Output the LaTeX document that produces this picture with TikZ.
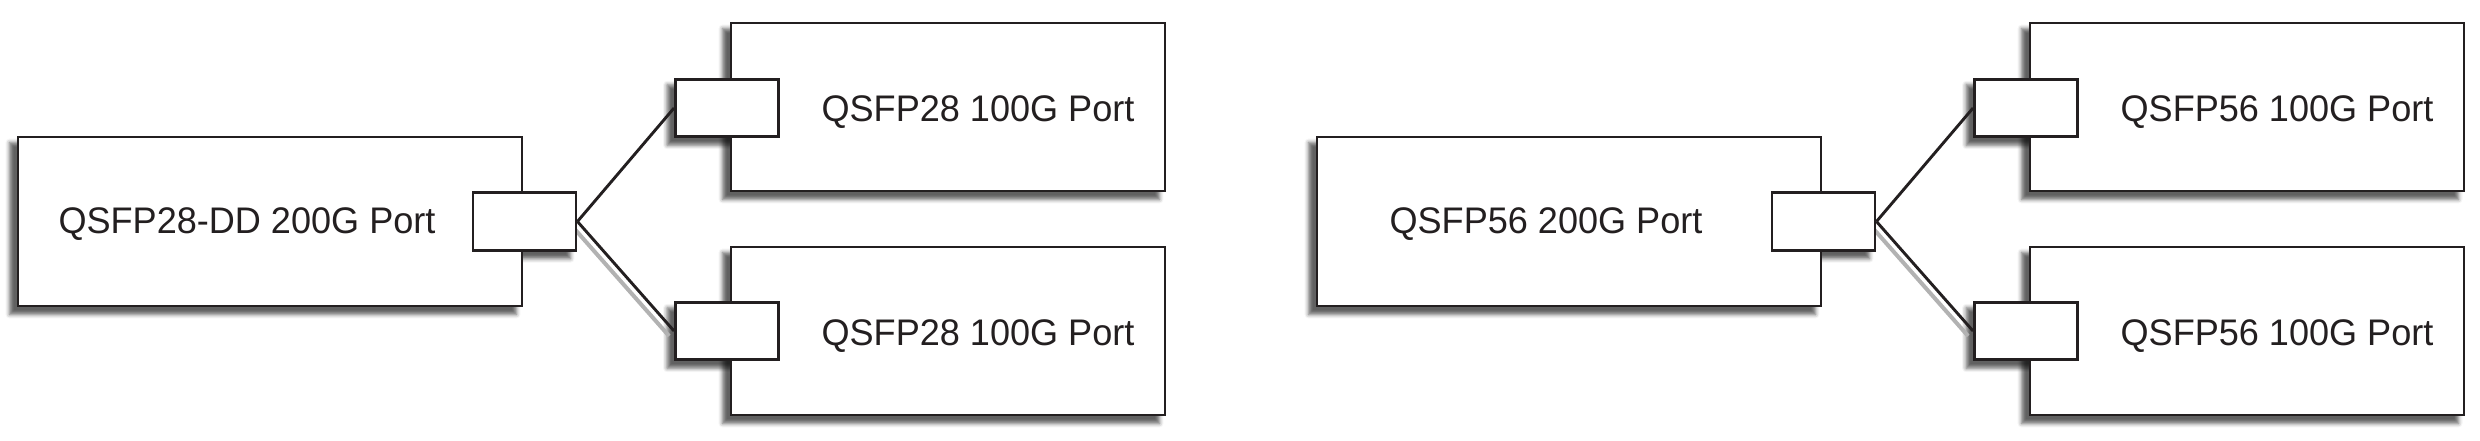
\documentclass[tikz,border=0pt]{standalone}
\usepackage{fontspec}
\setmainfont{Liberation Sans}[FakeStretch=0.975]
\usetikzlibrary{shadows.blur}
\definecolor{ink}{HTML}{231F20}
\pgfdeclarelayer{bg}
\pgfsetlayers{bg,main}
\begin{document}
\begin{tikzpicture}[x=0.5pt,y=-0.5pt,
  box/.style={draw=ink, line width=1.45pt, fill=white, inner sep=0pt, rectangle},
  bigbox/.style={box, minimum width=252pt, minimum height=84.5pt},
  devbox/.style={box, minimum width=217pt, minimum height=84pt},
  portbox/.style={box, minimum width=51.5pt, minimum height=28.75pt},
  lbl/.style={font=\fontsize{18.5pt}{22pt}\selectfont, text=ink, inner sep=0pt, anchor=base},
  conn/.style={draw=ink, line width=1.45pt},
  connshadow/.style={draw=black!30, line width=2pt},
  shad/.style={blur shadow={shadow xshift=-3.5pt, shadow yshift=-3.5pt, shadow blur radius=2pt, shadow opacity=62}}
]
\useasboundingbox (0,0) rectangle (2480,440);

% ---- left group
\node[bigbox] (Lmain) at (270,221.5) {};
\node[devbox] (Ltop) at (948,107) {};
\node[devbox] (Lbot) at (948,331) {};
\node[portbox] (Lmainport) at (524.5,221.5) {};
\node[portbox] (Ltopport) at (727,108) {};
\node[portbox] (Lbotport) at (727,331) {};
\node[lbl] (Lmaintxt) at (247,233) {QSFP28-DD 200G Port};
\node[lbl] (Ltoptxt) at (978,121) {QSFP28 100G Port};
\node[lbl] (Lbottxt) at (978,345) {QSFP28 100G Port};
\draw[conn] (Lmainport.east) -- (Ltopport.west);
\draw[conn] (Lmainport.east) -- (Lbotport.west);

% ---- right group
\node[bigbox] (Rmain) at (1569,221.5) {};
\node[devbox] (Rtop) at (2247,107) {};
\node[devbox] (Rbot) at (2247,331) {};
\node[portbox] (Rmainport) at (1823.5,221.5) {};
\node[portbox] (Rtopport) at (2026,108) {};
\node[portbox] (Rbotport) at (2026,331) {};
\node[lbl] (Rmaintxt) at (1546,233) {QSFP56 200G Port};
\node[lbl] (Rtoptxt) at (2277,121) {QSFP56 100G Port};
\node[lbl] (Rbottxt) at (2277,345) {QSFP56 100G Port};
\draw[conn] (Rmainport.east) -- (Rtopport.west);
\draw[conn] (Rmainport.east) -- (Rbotport.west);

% ---- shadows
\begin{pgfonlayer}{bg}
  \foreach \n in {Lmain,Ltop,Lbot,Lmainport,Ltopport,Lbotport,Rmain,Rtop,Rbot,Rmainport,Rtopport,Rbotport}
    \path[shad] (\n.south west) rectangle (\n.north east);
  \draw[connshadow] ([shift={(-5,5)}]Lmainport.east) -- ([shift={(-5,5)}]Lbotport.west);
  \draw[connshadow] ([shift={(-5,5)}]Rmainport.east) -- ([shift={(-5,5)}]Rbotport.west);
\end{pgfonlayer}
\end{tikzpicture}
\end{document}
